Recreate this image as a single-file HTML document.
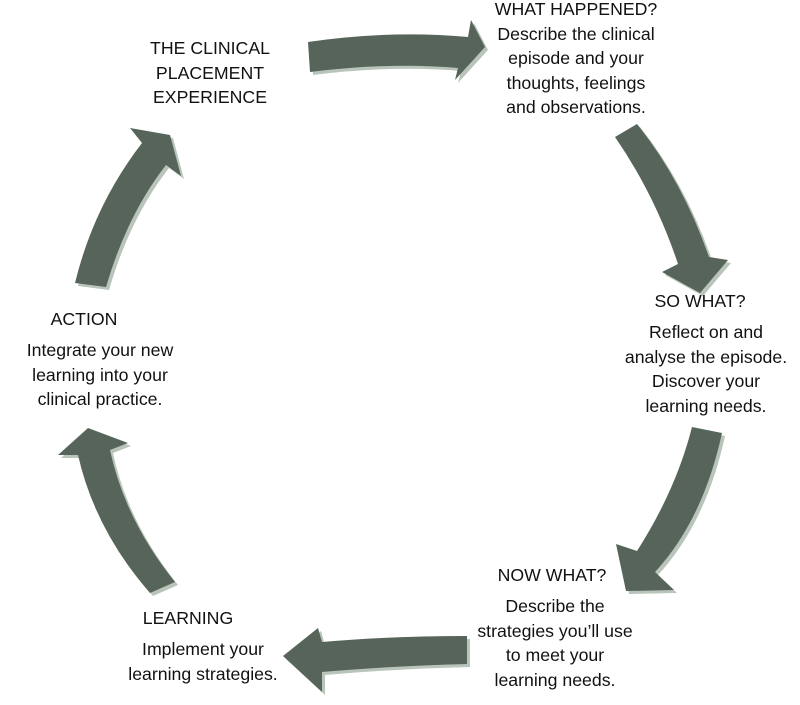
<!DOCTYPE html>
<html><head><meta charset="utf-8"><style>
body{margin:0;background:#fff;width:800px;height:705px;overflow:hidden;position:relative;font-family:"Liberation Sans",Arial,sans-serif;color:#111}
.t{position:absolute;text-align:center;font-size:17.7px;line-height:24.6px;white-space:nowrap;transform:translateX(-50%)}
svg{position:absolute;left:0;top:0}
</style></head><body>
<svg width="800" height="705" viewBox="0 0 800 705">
<defs>
<g id="arrows">
<path d="M308,42 Q390,30 468,37 L471,20 L485,47 L455,80 L458,68 Q390,62 310,72 Z"/>
<path d="M615,137 L637,124 Q682,180 709,257 L728,260 L700,293 L662,272 L678,264 Q655,195 615,137 Z"/>
<path d="M692,427 L722,433 Q703,520 655,572 L674,590 L626,591 L616,544 L637,551 Q676,490 692,427 Z"/>
<path d="M467,636 L467,664 Q390,666 322,672 L322,692 L283,656 L318,628 L322,642 Q390,636 467,636 Z"/>
<path d="M150,593 L175,582 Q125,520 110,450 L128,443 L88,428 L58,455 L78,455 Q95,530 150,593 Z"/>
<path d="M75,283 L106,287 Q127,215 166,165 L181,176 L170,135 L130,128 L142,143 Q94,205 75,283 Z"/>
</g>
</defs>
<use href="#arrows" transform="translate(3,3)" fill="#b9c4ba"/>
<use href="#arrows" fill="#56645a"/>
</svg>
<div class="t" style="left:210px;top:36px">THE CLINICAL<br>PLACEMENT<br>EXPERIENCE</div>
<div class="t" style="left:576px;top:-3px">WHAT HAPPENED?<br>Describe the clinical<br>episode and your<br>thoughts, feelings<br>and observations.</div>
<div class="t" style="left:700px;top:289px">SO WHAT?</div>
<div class="t" style="left:706px;top:320px">Reflect on and<br>analyse the episode.<br>Discover your<br>learning needs.</div>
<div class="t" style="left:552px;top:563px">NOW WHAT?</div>
<div class="t" style="left:555px;top:594px">Describe the<br>strategies you’ll use<br>to meet your<br>learning needs.</div>
<div class="t" style="left:188px;top:606px">LEARNING</div>
<div class="t" style="left:203px;top:637px">Implement your<br>learning strategies.</div>
<div class="t" style="left:84px;top:307px">ACTION</div>
<div class="t" style="left:100px;top:338px">Integrate your new<br>learning into your<br>clinical practice.</div>
</body></html>
